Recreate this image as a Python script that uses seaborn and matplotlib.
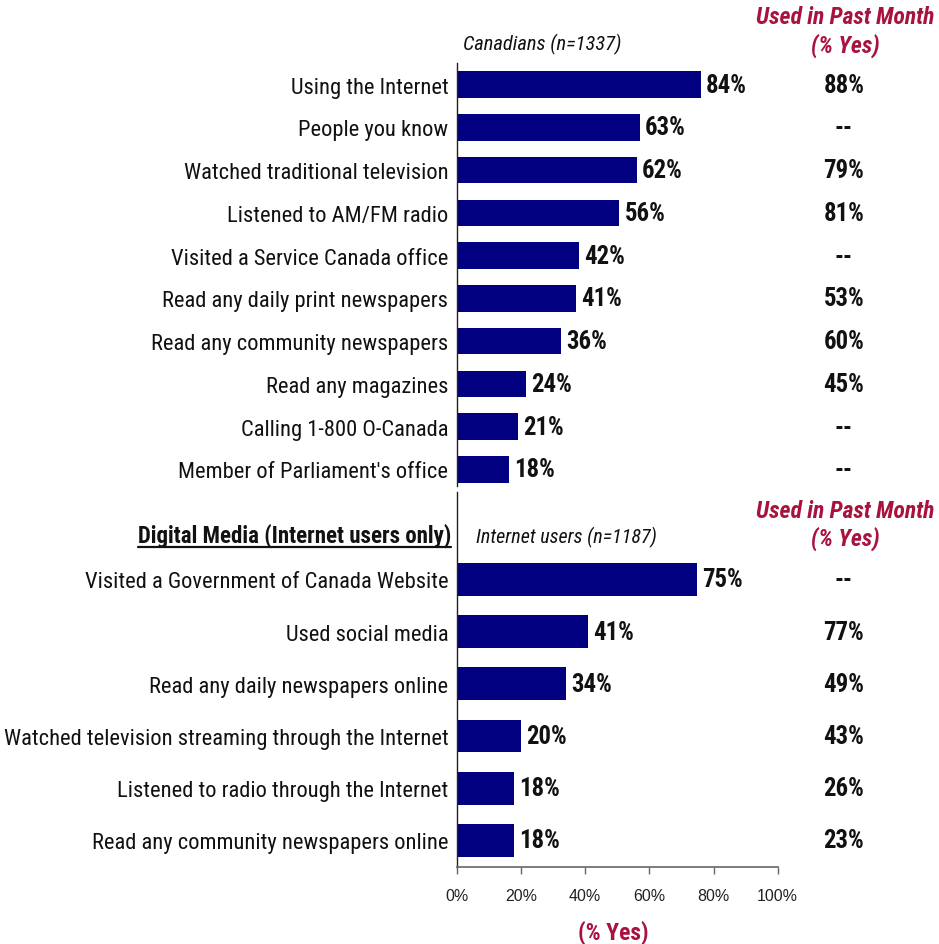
import matplotlib
matplotlib.use("Agg")
import matplotlib.pyplot as plt
import matplotlib.transforms as mtransforms
from matplotlib.lines import Line2D
import seaborn as sns

# ---- data -------------------------------------------------------------
traditional_labels = [
    "Using the Internet",
    "People you know",
    "Watched traditional television",
    "Listened to AM/FM radio",
    "Visited a Service Canada office",
    "Read any daily print newspapers",
    "Read any community newspapers",
    "Read any magazines",
    "Calling 1-800 O-Canada",
    "Member of Parliament's office",
]
traditional_values = [84, 63, 62, 56, 42, 41, 36, 24, 21, 18]
traditional_past_month = ["88%", "--", "79%", "81%", "--", "53%", "60%", "45%", "--", "--"]

digital_labels = [
    "Visited a Government of Canada Website",
    "Used social media",
    "Read any daily newspapers online",
    "Watched television streaming through the Internet",
    "Listened to radio through the Internet",
    "Read any community newspapers online",
]
digital_values = [75, 41, 34, 20, 18, 18]
digital_past_month = ["--", "77%", "49%", "43%", "26%", "23%"]

x_ticks = [0, 20, 40, 60, 80, 100]
x_tick_labels = ["0%", "20%", "40%", "60%", "80%", "100%"]

# ---- style ------------------------------------------------------------
sns.set_theme(style="white")
NARROW = ["Roboto Condensed", "Liberation Sans", "DejaVu Sans"]
plt.rcParams["font.family"] = NARROW
NAVY = "#000080"
CRIMSON = "#A8123E"
TEXT = "#111111"
FS_LABEL = 16.2
FS_VALUE = 17.8
FS_HEAD = 17

W, H = 939, 945
fig = plt.figure(figsize=(W / 100, H / 100), dpi=100)


def fx(px):
    return px / W


def fy(py):
    return 1 - py / H


def make_axes(left, right, top, bottom):
    return fig.add_axes([fx(left), fy(bottom), fx(right) - fx(left), fy(top) - fy(bottom)])


ax_top = make_axes(456.7, 747.2, 64, 487)
ax_bot = make_axes(456.7, 777.7, 493, 868)


def draw_panel(ax, labels, values, past_month, width, ylim):
    sns.barplot(x=values, y=labels, orient="h", color=NAVY, saturation=1,
                width=width, linewidth=0, ax=ax)
    ax.set_xlim(0, 100)
    ax.set_ylim(*ylim)
    ax.set_xlabel("")
    ax.set_ylabel("")
    for side in ("top", "right", "bottom"):
        ax.spines[side].set_visible(False)
    ax.spines["left"].set_color("#222222")
    ax.spines["left"].set_linewidth(1.0)
    ax.tick_params(axis="y", length=0, pad=6, labelsize=FS_LABEL, labelcolor=TEXT)
    for lbl in ax.get_yticklabels():
        lbl.set_fontfamily(NARROW)
    # value labels at the bar ends
    for i, v in enumerate(values):
        ax.annotate(f"{v}%", xy=(v, i), xytext=(3.6, 0), textcoords="offset points",
                    ha="left", va="center", fontsize=FS_VALUE, fontweight="bold",
                    color=TEXT, family=NARROW)
    # past-month column on the right
    tr = mtransforms.blended_transform_factory(fig.transFigure, ax.transData)
    for i, s in enumerate(past_month):
        ax.text(fx(844), i, s, transform=tr, ha="center", va="center",
                fontsize=FS_VALUE, fontweight="bold", color=TEXT, family=NARROW)


draw_panel(ax_top, traditional_labels, traditional_values, traditional_past_month,
           0.62, (9.39, -0.503))
draw_panel(ax_bot, digital_labels, digital_values, digital_past_month,
           0.63, (5.51, -1.676))

ax_top.set_xticks([])

# bottom percentage axis
ax_bot.spines["bottom"].set_visible(True)
ax_bot.spines["bottom"].set_color("#666666")
ax_bot.spines["bottom"].set_linewidth(1.2)
ax_bot.set_xticks(x_ticks)
ax_bot.set_xticklabels(x_tick_labels)
ax_bot.tick_params(axis="x", bottom=True, direction="out", length=5, width=1.0,
                   color="#666666", pad=10, labelsize=11.5, labelcolor="#222222")
for lbl in ax_bot.get_xticklabels():
    lbl.set_fontfamily(["Liberation Sans", "DejaVu Sans"])


# headings
def header(y_first, y_second):
    fig.text(fx(845), fy(y_first), "Used in Past Month", ha="center", va="baseline",
             fontsize=FS_HEAD, fontweight="bold", fontstyle="italic", color=CRIMSON, family=NARROW)
    fig.text(fx(845), fy(y_second), "(% Yes)", ha="center", va="baseline",
             fontsize=FS_HEAD, fontweight="bold", fontstyle="italic", color=CRIMSON, family=NARROW)


header(24, 53)
header(518, 546)

fig.text(fx(463), fy(50), "Canadians (n=1337)", ha="left", va="baseline",
         fontsize=14.8, fontstyle="italic", color=TEXT, family=NARROW)
fig.text(fx(476), fy(543), "Internet users (n=1187)", ha="left", va="baseline",
         fontsize=14.5, fontstyle="italic", color=TEXT, family=NARROW)
section = fig.text(fx(451), fy(543), "Digital Media (Internet users only)", ha="right",
                   va="baseline", fontsize=16.5, fontweight="bold", color=TEXT, family=NARROW)

fig.text(fx(613), fy(940), "(% Yes)", ha="center", va="baseline",
         fontsize=FS_HEAD, fontweight="bold", color=CRIMSON, family=NARROW)

# underline the section heading
fig.canvas.draw()
bb = section.get_window_extent(renderer=fig.canvas.get_renderer())
bb = bb.transformed(fig.transFigure.inverted())
fig.add_artist(Line2D([bb.x0, bb.x1], [fy(548), fy(548)], transform=fig.transFigure,
                      color=TEXT, linewidth=1.6))

fig.savefig("out.png", dpi=100, facecolor="white")
